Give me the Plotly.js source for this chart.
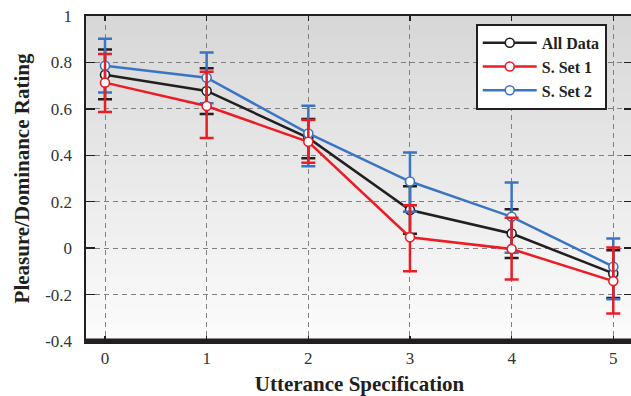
<!DOCTYPE html>
<html>
<head>
<meta charset="utf-8">
<script src="https://cdn.plot.ly/plotly-3.0.1.min.js"></script>
<style>
html,body{margin:0;padding:0;overflow:hidden;background:#fff;}
#chart{width:640px;height:396px;}
</style>
</head>
<body>
<div id="chart"></div>
<script>
// ---- data ----
const xValues = [0, 1, 2, 3, 4, 5];
const xTickLabels = ['0', '1', '2', '3', '4', '5'];
const yTickValues = [-0.4, -0.2, 0, 0.2, 0.4, 0.6, 0.8, 1];
const yTickLabels = ['-0.4', '-0.2', '0', '0.2', '0.4', '0.6', '0.8', '1'];

const allDataMean  = [0.747, 0.677, 0.475, 0.164, 0.063, -0.109];
const allDataPlus  = [0.109, 0.098, 0.081, 0.103, 0.105, 0.100];
const allDataMinus = [0.106, 0.099, 0.088, 0.102, 0.105, 0.106];

const set1Mean  = [0.713, 0.612, 0.458, 0.047, -0.004, -0.142];
const set1Plus  = [0.123, 0.148, 0.094, 0.138, 0.135, 0.145];
const set1Minus = [0.127, 0.137, 0.090, 0.146, 0.131, 0.140];

const set2Mean  = [0.786, 0.734, 0.494, 0.287, 0.135, -0.080];
const set2Plus  = [0.116, 0.109, 0.119, 0.125, 0.148, 0.122];
const set2Minus = [0.115, 0.110, 0.141, 0.130, 0.155, 0.140];

const seriesNames = ['All Data', 'S. Set 1', 'S. Set 2'];

// ---- styling ----
const cBlack = '#231f20', cRed = '#ed1c24', cBlue = '#3a75c4';
const serif = 'Liberation Serif';

function mk(name, y, plus, minus, color, rank) {
  return {
    type: 'scatter', mode: 'lines+markers', name: name,
    x: xValues, y: y, legendrank: rank,
    line: {color: color, width: 2.5},
    marker: {symbol: 'circle', size: 9, color: '#ffffff', line: {color: color, width: 1.6}},
    error_y: {type: 'data', symmetric: false, array: plus, arrayminus: minus,
              color: color, thickness: 2.5, width: 7}
  };
}

const traces = [
  mk(seriesNames[0], allDataMean, allDataPlus, allDataMinus, cBlack, 1),
  mk(seriesNames[2], set2Mean, set2Plus, set2Minus, cBlue, 3),
  mk(seriesNames[1], set1Mean, set1Plus, set1Minus, cRed, 2)
];

// background gradient strips (plot-area decoration)
const shapes = [];
const nStrips = 60;
const topC = 215, botC = 252;
for (let i = 0; i < nStrips; i++) {
  const t = i / (nStrips - 1);
  const v = Math.round(botC + (topC - botC) * t);
  shapes.push({type: 'rect', xref: 'paper', yref: 'paper', layer: 'below',
    x0: 0, x1: 1, y0: i / nStrips, y1: (i + 1) / nStrips + 0.002,
    fillcolor: 'rgb(' + v + ',' + v + ',' + v + ')', line: {width: 0}});
}
// thick bottom axis
shapes.push({type: 'line', xref: 'paper', yref: 'paper', layer: 'above',
  x0: 0, x1: 1, y0: 0, y1: 0, line: {color: cBlack, width: 5}});

const layout = {
  width: 640, height: 396,
  margin: {l: 86, r: 7, t: 16, b: 55},
  paper_bgcolor: '#ffffff', plot_bgcolor: '#f0f0f0',
  font: {family: serif, color: '#231f20', size: 17},
  showlegend: true,
  legend: {x: 0.7125, y: 0.976, xanchor: 'left', yanchor: 'top',
    bgcolor: '#ffffff', bordercolor: cBlack, borderwidth: 2,
    font: {family: serif, size: 16, color: cBlack, weight: 'bold'},
    itemwidth: 54, tracegroupgap: 0, entrywidth: 150},
  xaxis: {
    range: [-0.187, 5.194], tickvals: xValues, ticktext: xTickLabels,
    showline: true, linecolor: cBlack, linewidth: 2.5, mirror: 'ticks',
    ticks: 'inside', ticklen: 5, tickwidth: 1.5, tickcolor: cBlack,
    showgrid: true, gridcolor: '#808080', gridwidth: 1, griddash: '5px,4px',
    zeroline: false,
    tickfont: {family: serif, size: 17, color: '#333333'},
    title: {text: 'Utterance Specification', standoff: 10,
      font: {family: serif, size: 21, color: cBlack, weight: 'bold'}}
  },
  yaxis: {
    range: [-0.4, 1], tickvals: yTickValues, ticktext: yTickLabels,
    showline: true, linecolor: cBlack, linewidth: 2.5, mirror: 'ticks',
    ticks: 'inside', ticklen: 9, tickwidth: 1.5, tickcolor: cBlack,
    ticklabelstandoff: 8,
    showgrid: true, gridcolor: '#808080', gridwidth: 1, griddash: '5px,4px',
    zeroline: false,
    tickfont: {family: serif, size: 17, color: '#333333'},
    title: {text: 'Pleasure/Dominance Rating', standoff: 10,
      font: {family: serif, size: 21, color: cBlack, weight: 'bold'}}
  },
  shapes: shapes
};

Plotly.newPlot('chart', traces, layout, {displayModeBar: false, staticPlot: true});
</script>
</body>
</html>
